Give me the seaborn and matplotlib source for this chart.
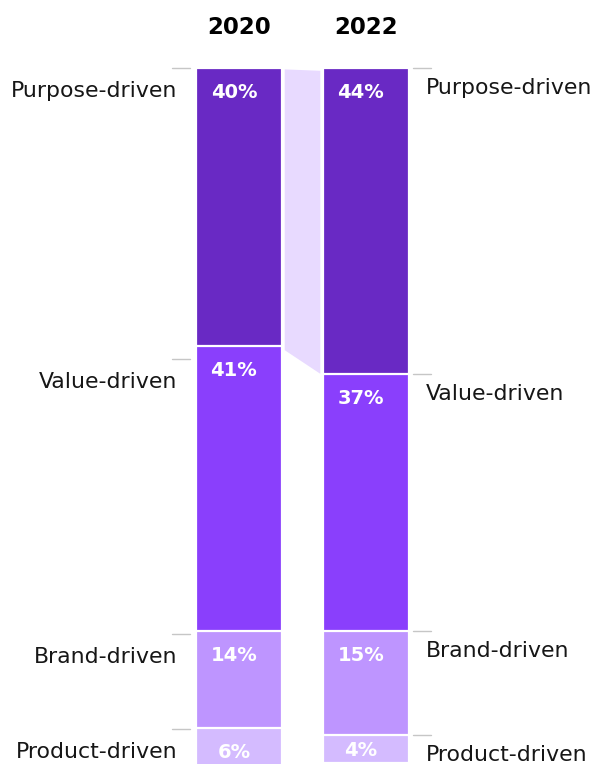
import numpy as np
import pandas as pd
import matplotlib
matplotlib.use("Agg")
import matplotlib.pyplot as plt
import seaborn as sns

years = ["2020", "2022"]
categories = ["Purpose-driven", "Value-driven", "Brand-driven", "Product-driven"]
values_2020 = [40, 41, 14, 6]
values_2022 = [44, 37, 15, 4]
colors = ["#6929c4", "#8a3ffc", "#be95ff", "#d4bbff"]
connector_color = "#e8daff"

sns.set_theme(style="white")
plt.rcParams["font.family"] = ["DejaVu Sans"]

fig = plt.figure(figsize=(5.95, 7.64), dpi=100)
ax = fig.add_axes([0, 0, 1, 1])

vals = np.array([values_2020, values_2022], dtype=float)  # years x cats
cum = np.cumsum(vals, axis=1)
tops = cum - vals

width = 0.68
for j in range(len(categories) - 1, -1, -1):
    df = pd.DataFrame({"year": years, "v": cum[:, j]})
    sns.barplot(data=df, x="year", y="v", color=colors[j], width=width,
                edgecolor="white", linewidth=1.6, saturation=1, ax=ax)

x0 = 0 + width / 2 + 0.02
x1 = 1 - width / 2 - 0.02
ax.fill([x0, x1, x1, x0], [tops[0, 0] + 0.2, tops[1, 0] + 0.4, cum[1, 0], cum[0, 0] + 0.6],
        color=connector_color, lw=0, zorder=1)

px = 127.0
ax.set_xlim(-239 / px, (595 - 239) / px)
ppu = 6.95
ax.set_ylim((764 - 68) / ppu, -68 / ppu)
ax.axis("off")

def xpix(p):
    return (p - 239) / px

for i in range(2):
    for j in range(len(categories)):
        off = 3.5 if vals[i, j] > 5 else 2.2
        ax.text(i - 0.04, tops[i, j] + off, f"{int(vals[i, j])}%", color="white",
                fontsize=14, fontweight="bold",
                ha="center", va="center", zorder=5)

for i, y in enumerate(years):
    ax.text(i, -68 / ppu + 27 / ppu, y, fontsize=16.5, fontweight="bold",
            ha="center", va="center", color="black")

# small layout nudges (in pixels) for the left-hand annotations, as in the original
left_nudge_px = [0, 13, 3, 1]
for j, c in enumerate(categories):
    yl = tops[0, j] + left_nudge_px[j] / ppu
    ax.plot([xpix(172), xpix(190)], [yl, yl], color="#c6c6c6", lw=1, clip_on=False)
    ax.text(xpix(177), yl + 3.3, c, fontsize=15.8, ha="right", va="center", color="#161616")
    yr = tops[1, j]
    ax.plot([xpix(413), xpix(431)], [yr, yr], color="#c6c6c6", lw=1, clip_on=False)
    ax.text(xpix(426), yr + 2.9, c, fontsize=15.8, ha="left", va="center", color="#161616")

fig.savefig("out.png", dpi=100)
